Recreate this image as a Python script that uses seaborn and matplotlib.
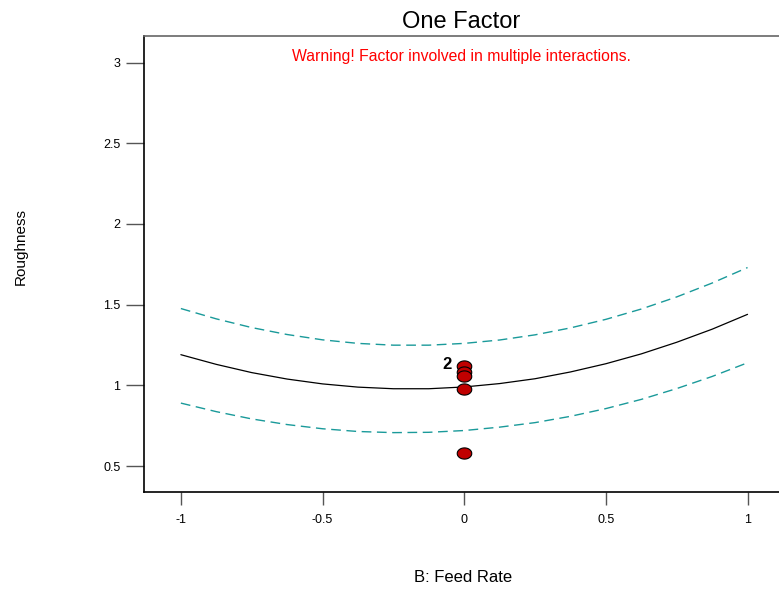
import numpy as np
import pandas as pd
import seaborn as sns
from matplotlib import pyplot as plt

feed_rate = [-1, -0.875, -0.75, -0.625, -0.5, -0.375, -0.25, -0.125, 0,
             0.125, 0.25, 0.375, 0.5, 0.625, 0.75, 0.875, 1]
predicted = [1.19, 1.130, 1.079, 1.039, 1.009, 0.989, 0.979, 0.979, 0.99,
             1.011, 1.041, 1.083, 1.134, 1.195, 1.267, 1.348, 1.44]
upper_ci = [1.476, 1.412, 1.358, 1.315, 1.282, 1.260, 1.249, 1.249, 1.26,
            1.281, 1.313, 1.356, 1.409, 1.473, 1.548, 1.634, 1.73]
lower_ci = [0.89, 0.837, 0.792, 0.757, 0.731, 0.714, 0.707, 0.709, 0.72,
            0.741, 0.769, 0.808, 0.856, 0.913, 0.980, 1.055, 1.14]

# design points
obs_x = [0, 0, 0, 0, 0]
obs_y = [1.12, 1.08, 1.06, 0.98, 0.58]

x_ticks = [-1, -0.5, 0, 0.5, 1]
x_ticklabels = ["-1", "-0.5", "0", "0.5", "1"]
y_ticks = [0.5, 1, 1.5, 2, 2.5, 3]
y_ticklabels = ["0.5", "1", "1.5", "2", "2.5", "3"]

curves = pd.DataFrame({"x": feed_rate, "pred": predicted,
                       "hi": upper_ci, "lo": lower_ci})
points = pd.DataFrame({"x": obs_x, "y": obs_y})

sns.set_style("ticks", {"text.color": "black", "axes.labelcolor": "black",
                        "xtick.color": "black", "ytick.color": "black"})
plt.rcParams["font.family"] = ["Liberation Sans", "DejaVu Sans"]

fig = plt.figure(figsize=(7.79, 5.92), dpi=100)
ax = fig.add_axes([0.1849, 0.1689, 0.8151, 0.7703])

teal = "#1a9a9a"
sns.lineplot(data=curves, x="x", y="hi", ax=ax, color=teal, lw=1,
             linestyle=(0, (7, 4)))
sns.lineplot(data=curves, x="x", y="lo", ax=ax, color=teal, lw=1,
             linestyle=(0, (7, 4)))
sns.lineplot(data=curves, x="x", y="pred", ax=ax, color="black", lw=0.9)

t = np.linspace(0, 2 * np.pi, 40)
ellipse = np.column_stack([1.3 * np.cos(t), np.sin(t)])
sns.scatterplot(data=points, x="x", y="y", ax=ax, marker=ellipse, s=110,
                color="#c00000", edgecolor="black", linewidth=0.8, zorder=5)
ax.annotate("2", (obs_x[0], obs_y[0]), xytext=(-17, 1),
            textcoords="offset pixels", ha="center", va="center",
            fontsize=12, fontweight="bold", color="black")

ax.set_xlim(-1.13, 1.111)
ax.set_ylim(0.339, 3.165)
ax.set_xticks(x_ticks, x_ticklabels)
ax.set_yticks(y_ticks, y_ticklabels)
ax.tick_params(axis="x", length=9.5, width=1, color="#555555", pad=6,
               labelsize=9, labelcolor="black")
ax.tick_params(axis="y", length=13, width=1, color="#555555", pad=4,
               labelsize=9, labelcolor="black")
ax.set_xlabel("")
ax.set_ylabel("")

for side in ["left", "bottom"]:
    ax.spines[side].set_color("black")
    ax.spines[side].set_linewidth(1.2)
ax.spines["top"].set_color("#666666")
ax.spines["top"].set_linewidth(1.2)
ax.spines["right"].set_visible(False)

ax.set_title("One Factor", fontsize=17, pad=6, color="black")
ax.text(0.5, 0.972, "Warning! Factor involved in multiple interactions.",
        transform=ax.transAxes, ha="center", va="top", color="#ff0000",
        fontsize=11.3)

fig.text(0.026, 0.583, "Roughness", rotation=90, ha="center", va="center",
         fontsize=11, color="black")
fig.text(0.595, 0.024, "B: Feed Rate", ha="center", va="center", fontsize=12,
         color="black")

fig.savefig("out.png", dpi=100)
